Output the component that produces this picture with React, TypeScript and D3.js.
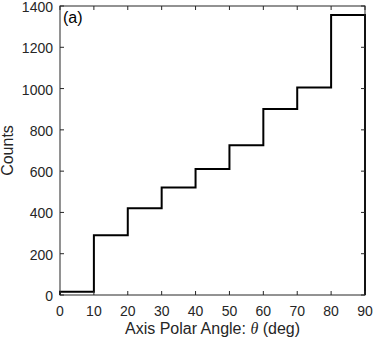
import React, { useEffect, useRef } from "react";
import * as d3 from "d3";

// bin edges (deg) and counts per bin
const binEdges = [0, 10, 20, 30, 40, 50, 60, 70, 80, 90];
const counts = [16, 289, 420, 521, 610, 726, 901, 1005, 1356];
const xTicks = [0, 10, 20, 30, 40, 50, 60, 70, 80, 90];
const yTicks = [0, 200, 400, 600, 800, 1000, 1200, 1400];

const W = 374;
const H = 341;

export default function App() {
  const svgRef = useRef<SVGSVGElement>(null);

  useEffect(() => {
    if (!svgRef.current) return;
    const svg = d3.select(svgRef.current);
    svg.selectAll("*").remove();

    const margin = { top: 6, right: 9, bottom: 46, left: 60 };
    const x = d3.scaleLinear().domain([0, 90]).range([margin.left, W - margin.right]);
    const y = d3.scaleLinear().domain([0, 1400]).range([H - margin.bottom, margin.top]);
    const font = "Liberation Sans, Arial, Helvetica, sans-serif";

    // step outline
    const pts: [number, number][] = [];
    counts.forEach((c, i) => {
      pts.push([binEdges[i], c]);
      pts.push([binEdges[i + 1], c]);
    });
    const first: [number, number] = [0, 0];
    const last: [number, number] = [90, 0];
    const line = d3
      .line<[number, number]>()
      .x((d) => x(d[0]))
      .y((d) => y(d[1]));
    svg
      .append("path")
      .attr("d", line([first, ...pts, last]))
      .attr("fill", "none")
      .attr("stroke", "#000")
      .attr("stroke-width", 2);

    // box
    svg
      .append("rect")
      .attr("x", x(0))
      .attr("y", y(1400))
      .attr("width", x(90) - x(0))
      .attr("height", y(0) - y(1400))
      .attr("fill", "none")
      .attr("stroke", "#262626")
      .attr("stroke-width", 1);

    const tl = 4;
    const g = svg.append("g").attr("stroke", "#262626").attr("stroke-width", 1);
    xTicks.forEach((t) => {
      g.append("line").attr("x1", x(t)).attr("x2", x(t)).attr("y1", y(0)).attr("y2", y(0) - tl);
      g.append("line").attr("x1", x(t)).attr("x2", x(t)).attr("y1", y(1400)).attr("y2", y(1400) + tl);
    });
    yTicks.forEach((t) => {
      g.append("line").attr("x1", x(0)).attr("x2", x(0) + tl).attr("y1", y(t)).attr("y2", y(t));
      g.append("line").attr("x1", x(90)).attr("x2", x(90) - tl).attr("y1", y(t)).attr("y2", y(t));
    });

    svg
      .append("g")
      .selectAll("text")
      .data(xTicks)
      .enter()
      .append("text")
      .attr("x", (d) => x(d))
      .attr("y", y(0) + 21)
      .attr("text-anchor", "middle")
      .attr("font-family", font)
      .attr("font-size", 14)
      .attr("fill", "#262626")
      .text((d) => d);

    svg
      .append("g")
      .selectAll("text")
      .data(yTicks)
      .enter()
      .append("text")
      .attr("x", x(0) - 7)
      .attr("y", (d) => y(d) + 6)
      .attr("text-anchor", "end")
      .attr("font-family", font)
      .attr("font-size", 14)
      .attr("fill", "#262626")
      .text((d) => d);

    const xl = svg
      .append("text")
      .attr("x", (x(0) + x(90)) / 2)
      .attr("y", H - 7)
      .attr("text-anchor", "middle")
      .attr("font-family", font)
      .attr("font-size", 16)
      .attr("fill", "#262626");
    xl.append("tspan").text("Axis Polar Angle: ");
    xl.append("tspan").attr("font-family", "Liberation Serif, serif").attr("font-style", "italic").text("θ");
    xl.append("tspan").text(" (deg)");

    svg
      .append("text")
      .attr("transform", `translate(13,${(y(0) + y(1400)) / 2}) rotate(-90)`)
      .attr("text-anchor", "middle")
      .attr("font-family", font)
      .attr("font-size", 16)
      .attr("fill", "#262626")
      .text("Counts");

    svg
      .append("text")
      .attr("x", x(0) + 3)
      .attr("y", y(1400) + 17)
      .attr("font-family", font)
      .attr("font-size", 16)
      .attr("fill", "#000")
      .text("(a)");
  }, []);

  return (
    <div style={{ position: "fixed", left: 0, top: 0 }}>
      <svg ref={svgRef} width={W} height={H} style={{ display: "block", background: "#fff" }} />
    </div>
  );
}
